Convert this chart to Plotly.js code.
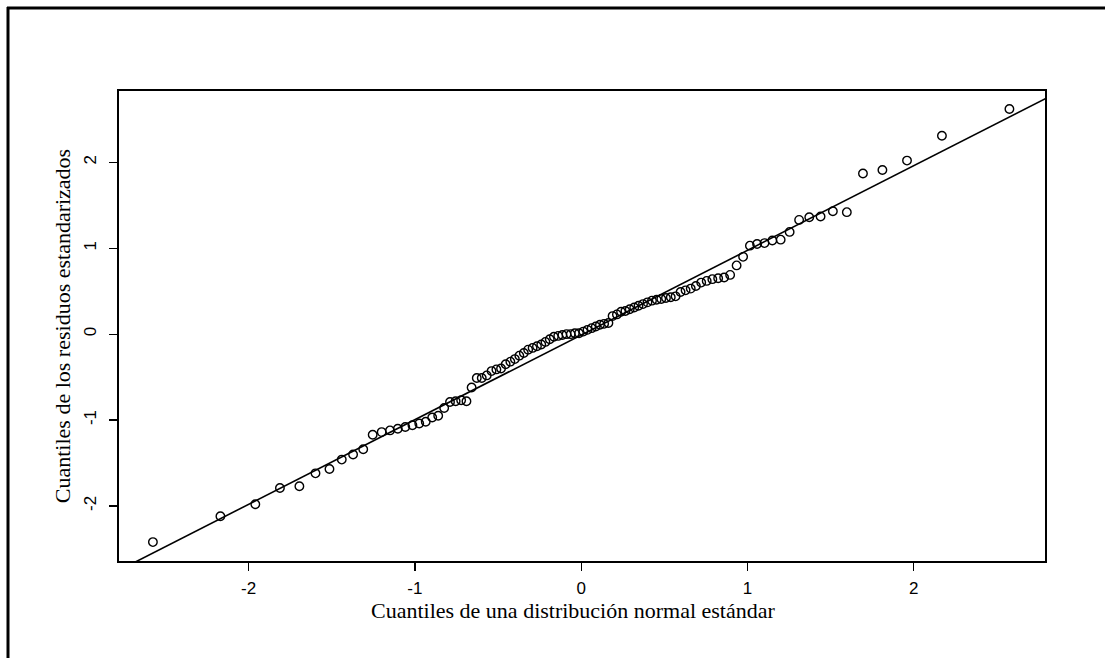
<!DOCTYPE html>
<html>
<head>
<meta charset="utf-8">
<script src="https://cdn.plot.ly/plotly-3.0.1.min.js"></script>
<style>
  html, body { margin: 0; padding: 0; background: #fff; }
  #chart { width: 1105px; height: 658px; }
</style>
</head>
<body>
<div id="chart"></div>
<script>
// Theoretical quantiles (x)
const theoQuantiles = [
  -2.576, -2.170, -1.960, -1.812, -1.695, -1.598, -1.514, -1.440, -1.372, -1.311,
  -1.254, -1.200, -1.150, -1.103, -1.058, -1.015, -0.974, -0.935, -0.896, -0.860,
  -0.824, -0.789, -0.755, -0.722, -0.690, -0.659, -0.628, -0.598, -0.568, -0.539,
  -0.510, -0.482, -0.454, -0.426, -0.399, -0.372, -0.345, -0.319, -0.292, -0.266,
  -0.240, -0.215, -0.189, -0.164, -0.138, -0.113, -0.088, -0.063, -0.038, -0.013,
   0.013,  0.038,  0.063,  0.088,  0.113,  0.138,  0.164,  0.189,  0.215,  0.240,
   0.266,  0.292,  0.319,  0.345,  0.372,  0.399,  0.426,  0.454,  0.482,  0.510,
   0.539,  0.568,  0.598,  0.628,  0.659,  0.690,  0.722,  0.755,  0.789,  0.824,
   0.860,  0.896,  0.935,  0.974,  1.015,  1.058,  1.103,  1.150,  1.200,  1.254,
   1.311,  1.372,  1.440,  1.514,  1.598,  1.695,  1.812,  1.960,  2.170,  2.576
];

// Sample quantiles of standardized residuals (y)
const residQuantiles = [
  -2.42, -2.12, -1.98, -1.79, -1.77, -1.62, -1.57, -1.46, -1.40, -1.34,
  -1.17, -1.14, -1.12, -1.10, -1.08, -1.06, -1.04, -1.02, -0.97, -0.95,
  -0.86, -0.79, -0.78, -0.77, -0.78, -0.62, -0.51, -0.51, -0.48, -0.43,
  -0.41, -0.40, -0.35, -0.32, -0.29, -0.25, -0.22, -0.18, -0.16, -0.14,
  -0.12, -0.09, -0.06, -0.03, -0.02, -0.01,  0.00,  0.00,  0.01,  0.01,
   0.03,  0.05,  0.07,  0.09,  0.11,  0.12,  0.13,  0.21,  0.23,  0.26,
   0.27,  0.29,  0.31,  0.33,  0.35,  0.37,  0.39,  0.40,  0.41,  0.42,
   0.43,  0.44,  0.49,  0.51,  0.53,  0.56,  0.60,  0.62,  0.64,  0.65,
   0.66,  0.69,  0.80,  0.90,  1.03,  1.05,  1.06,  1.09,  1.10,  1.19,
   1.33,  1.36,  1.37,  1.43,  1.42,  1.87,  1.91,  2.02,  2.31,  2.62
];

// Reference line (qqline) end points
const lineX = [-3.0, 3.0];
const lineY = [-2.965, 2.945];

// Tick labels
const xTickVals = [-2, -1, 0, 1, 2];
const xTickText = ["-2", "-1", "0", "1", "2"];
const yTickVals = [-2, -1, 0, 1, 2];
const yTickText = ["-2", "-1", "0", "1", "2"];

const xTitle = "Cuantiles de una distribución normal estándar";
const yTitle = "Cuantiles de los residuos estandarizados";

const W = 1105, H = 658;
const mL = 119, mR = 60, mT = 91, mB = 97;
const pw = W - mL - mR, ph = H - mT - mB;
const px = p => (p - mL) / pw;
const py = p => 1 - (p - mT) / ph;

const traces = [
  {
    x: lineX, y: lineY, type: 'scatter', mode: 'lines',
    line: { color: '#000', width: 1.6 }, hoverinfo: 'skip', showlegend: false
  },
  {
    x: theoQuantiles, y: residQuantiles, type: 'scatter', mode: 'markers',
    marker: { symbol: 'circle-open', size: 8.5, color: '#000', line: { width: 1.4, color: '#000' } },
    showlegend: false
  }
];

const layout = {
  width: W, height: H,
  margin: { l: mL, r: mR, t: mT, b: mB, pad: 0 },
  paper_bgcolor: '#fff', plot_bgcolor: '#fff',
  showlegend: false,
  xaxis: {
    range: [-2.78, 2.79],
    tickvals: xTickVals, ticktext: xTickText,
    ticks: 'outside', ticklen: 8, tickwidth: 1.2, tickcolor: '#000',
    ticklabelstandoff: 3,
    showgrid: false, zeroline: false,
    showline: true, mirror: true, linecolor: '#000', linewidth: 1.8,
    tickfont: { family: 'Liberation Sans, Arial, sans-serif', size: 17, color: '#000' }
  },
  yaxis: {
    range: [-2.64, 2.83],
    tickvals: yTickVals, ticktext: yTickText, tickangle: -90,
    ticks: 'outside', ticklen: 8, tickwidth: 1.2, tickcolor: '#000',
    ticklabelstandoff: 6,
    showgrid: false, zeroline: false,
    showline: true, mirror: true, linecolor: '#000', linewidth: 1.8,
    tickfont: { family: 'Liberation Sans, Arial, sans-serif', size: 17, color: '#000' },
    title: { text: yTitle, standoff: 5, font: { family: 'Liberation Serif, Times New Roman, serif', size: 22, color: '#000' } }
  },
  annotations: [
    {
      text: xTitle, xref: 'paper', yref: 'paper',
      x: px(573), y: py(610), xanchor: 'center', yanchor: 'middle',
      showarrow: false,
      font: { family: 'Liberation Serif, Times New Roman, serif', size: 22, color: '#000' }
    }
  ],
  shapes: [
    { type: 'line', xref: 'paper', yref: 'paper', x0: px(7), x1: px(1105), y0: py(8), y1: py(8), line: { color: '#000', width: 3 } },
    { type: 'line', xref: 'paper', yref: 'paper', x0: px(8), x1: px(8), y0: py(7), y1: py(658), line: { color: '#000', width: 3 } }
  ]
};

Plotly.newPlot('chart', traces, layout, { displayModeBar: false, staticPlot: true });
</script>
</body>
</html>
